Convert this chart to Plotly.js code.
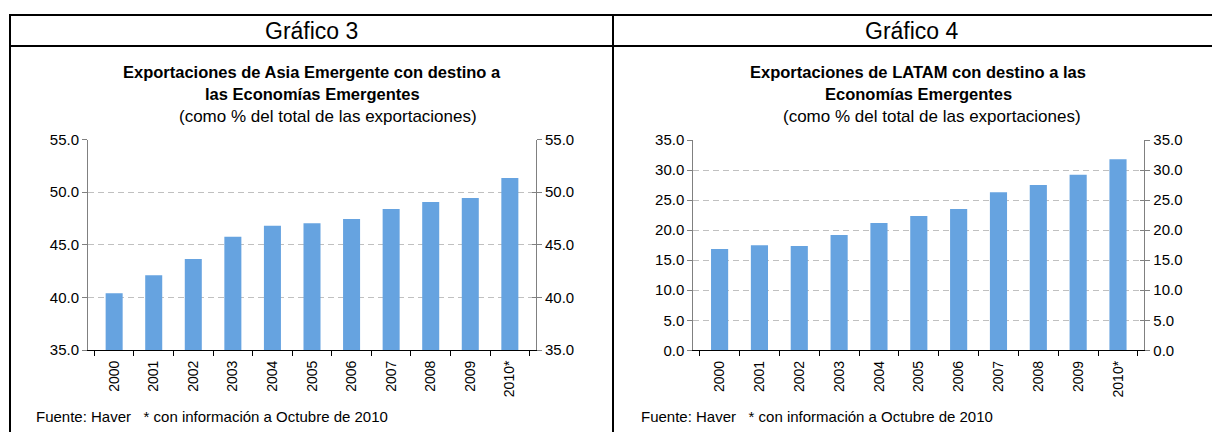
<!DOCTYPE html>
<html>
<head>
<meta charset="utf-8">
<script src="https://cdn.plot.ly/plotly-3.0.1.min.js"></script>
<style>html,body{margin:0;padding:0;background:#fff;}#chart{width:1212px;height:432px;}</style>
</head>
<body>
<div id="chart"></div>
<script>
const years = ["2000","2001","2002","2003","2004","2005","2006","2007","2008","2009","2010*"];
const asiaValues = [40.4, 42.1, 43.65, 45.75, 46.8, 47.05, 47.45, 48.4, 49.05, 49.45, 51.35];
const latamValues = [16.85, 17.5, 17.35, 19.2, 21.2, 22.35, 23.5, 26.3, 27.5, 29.2, 31.8];
const asiaTicks = [35, 40, 45, 50, 55];
const latamTicks = [0, 5, 10, 15, 20, 25, 30, 35];

const W = 1212, H = 432;
const px = v => v / W;
const py = v => 1 - v / H;

const barColor = '#66a3e0';
const fam = 'Liberation Sans, Arial, sans-serif';
const tickFont = {family: fam, size: 15, color: '#000'};
const xFont = {family: fam, size: 14, color: '#000'};

function ghost(yv, xa, ya) {
  return {type: 'scatter', mode: 'markers', x: years, y: yv, xaxis: xa, yaxis: ya,
    marker: {opacity: 0}, hoverinfo: 'skip', showlegend: false};
}

const traces = [
  {type: 'bar', x: years, y: asiaValues, xaxis: 'x', yaxis: 'y', marker: {color: barColor}, width: 0.43, hoverinfo: 'x+y'},
  ghost(asiaValues, 'x', 'y3'),
  ghost(asiaValues, 'x', 'y5'),
  {type: 'bar', x: years, y: latamValues, xaxis: 'x2', yaxis: 'y2', marker: {color: barColor}, width: 0.43, hoverinfo: 'x+y'},
  ghost(latamValues, 'x2', 'y4'),
  ghost(latamValues, 'x2', 'y6')
];

function xAxis(domain, anchor) {
  return {
    domain: domain, anchor: anchor, type: 'category',
    tickangle: -90, tickfont: xFont, ticks: 'outside', ticklen: 5, tickcolor: '#000',
    tickson: 'boundaries', showline: true, linecolor: '#000', linewidth: 1,
    ticklabelstandoff: 4,
    showgrid: false, zeroline: false, fixedrange: true
  };
}
function yAxis(domain, anchor, range, ticks, side, overlay, grid) {
  const a = {
    domain: domain, anchor: anchor, range: range, tickvals: ticks,
    ticktext: ticks.map(v => v.toFixed(1)), tickfont: tickFont,
    ticks: 'outside', ticklen: 5, tickcolor: '#808080',
    showline: true, linecolor: '#808080', linewidth: 1,
    showgrid: grid, gridcolor: '#c0c0c0', griddash: '6px,4px', gridwidth: 1,
    zeroline: false, side: side, fixedrange: true
  };
  if (overlay) a.overlaying = overlay;
  return a;
}
function innerTicks(domain, anchor, range, ticks, overlay) {
  return {
    domain: domain, anchor: anchor, range: range, tickvals: ticks,
    showticklabels: false, ticks: 'inside', ticklen: 4, tickcolor: '#808080',
    showline: false, showgrid: false, zeroline: false, side: 'right',
    overlaying: overlay, fixedrange: true
  };
}

const d1y = [py(350), py(139.5)];
const d2y = [py(350.3), py(140)];

function ann(text, x, y, size, extra) {
  return Object.assign({text: text, x: px(x), y: py(y), xref: 'paper', yref: 'paper',
    xanchor: 'center', yanchor: 'middle', showarrow: false,
    font: {family: fam, size: size, color: '#000'}}, extra || {});
}

const footnote = 'Fuente: Haver&nbsp;&nbsp;&nbsp;* con información a Octubre de 2010';

const layout = {
  width: W, height: H,
  margin: {l: 0, r: 0, t: 0, b: 0},
  paper_bgcolor: '#fff', plot_bgcolor: 'rgba(0,0,0,0)',
  showlegend: false,
  xaxis: xAxis([px(88), px(536)], 'y'),
  yaxis: yAxis(d1y, 'x', [35, 55], asiaTicks, 'left', null, true),
  yaxis3: yAxis(d1y, 'x', [35, 55], asiaTicks, 'right', 'y', false),
  yaxis5: innerTicks(d1y, 'x', [35, 55], asiaTicks, 'y'),
  xaxis2: xAxis([px(693.3), px(1144.3)], 'y2'),
  yaxis2: yAxis(d2y, 'x2', [0, 35], latamTicks, 'left', null, true),
  yaxis4: yAxis(d2y, 'x2', [0, 35], latamTicks, 'right', 'y2', false),
  yaxis6: innerTicks(d2y, 'x2', [0, 35], latamTicks, 'y2'),
  shapes: [
    {type: 'line', xref: 'paper', yref: 'paper', x0: px(9), x1: 1, y0: py(15), y1: py(15), line: {color: '#000', width: 2}},
    {type: 'line', xref: 'paper', yref: 'paper', x0: px(9), x1: 1, y0: py(46), y1: py(46), line: {color: '#000', width: 2}},
    {type: 'line', xref: 'paper', yref: 'paper', x0: px(10), x1: px(10), y0: py(14), y1: 0, line: {color: '#000', width: 2}},
    {type: 'line', xref: 'paper', yref: 'paper', x0: px(613), x1: px(613), y0: py(14), y1: 0, line: {color: '#000', width: 2}}
  ],
  annotations: [
    ann('Gráfico 3', 311, 31, 23),
    ann('Gráfico 4', 912, 31, 23),
    ann('<b>Exportaciones de Asia Emergente con destino a</b>', 312, 72, 16.5),
    ann('<b>las Economías Emergentes</b>', 312, 94, 16.5),
    ann('(como % del total de las exportaciones)', 328, 117, 17),
    ann('<b>Exportaciones de LATAM con destino a las</b>', 918, 72, 16.5),
    ann('<b>Economías Emergentes</b>', 918, 94, 16.5),
    ann('(como % del total de las exportaciones)', 932, 117, 17),
    ann(footnote, 34, 416, 15, {xanchor: 'left'}),
    ann(footnote, 639, 416, 15, {xanchor: 'left'})
  ]
};

Plotly.newPlot('chart', traces, layout, {displayModeBar: false, staticPlot: true});
</script>
</body>
</html>
